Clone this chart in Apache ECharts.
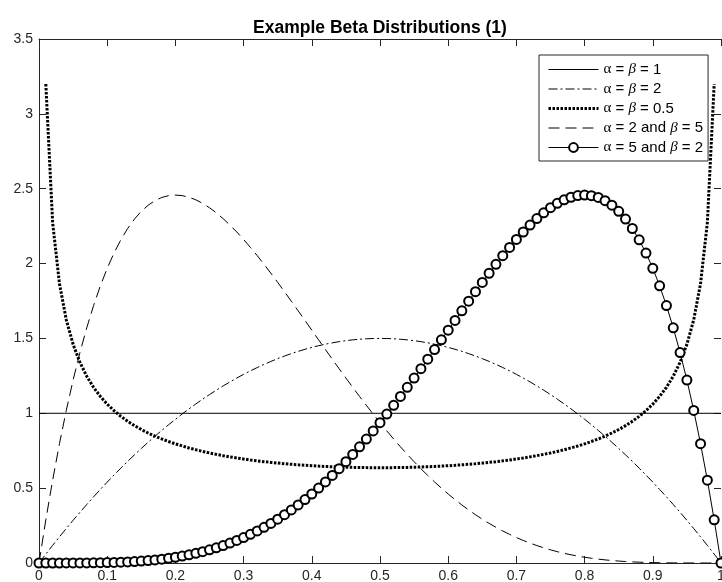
<!DOCTYPE html>
<html>
<head>
<meta charset="utf-8">
<script src="https://cdn.jsdelivr.net/npm/echarts@6/dist/echarts.min.js"></script>
<style>
  html, body { margin: 0; padding: 0; background: #fff; }
  #chart { width: 722px; height: 582px; }
</style>
</head>
<body>
<div id="chart"></div>
<script>
// x positions, 0 .. 1 in steps of 0.01
var xs = [
  0, 0.01, 0.02, 0.03, 0.04, 0.05, 0.06, 0.07, 0.08, 0.09,
  0.1, 0.11, 0.12, 0.13, 0.14, 0.15, 0.16, 0.17, 0.18, 0.19,
  0.2, 0.21, 0.22, 0.23, 0.24, 0.25, 0.26, 0.27, 0.28, 0.29,
  0.3, 0.31, 0.32, 0.33, 0.34, 0.35, 0.36, 0.37, 0.38, 0.39,
  0.4, 0.41, 0.42, 0.43, 0.44, 0.45, 0.46, 0.47, 0.48, 0.49,
  0.5, 0.51, 0.52, 0.53, 0.54, 0.55, 0.56, 0.57, 0.58, 0.59,
  0.6, 0.61, 0.62, 0.63, 0.64, 0.65, 0.66, 0.67, 0.68, 0.69,
  0.7, 0.71, 0.72, 0.73, 0.74, 0.75, 0.76, 0.77, 0.78, 0.79,
  0.8, 0.81, 0.82, 0.83, 0.84, 0.85, 0.86, 0.87, 0.88, 0.89,
  0.9, 0.91, 0.92, 0.93, 0.94, 0.95, 0.96, 0.97, 0.98, 0.99,
  1
];

// alpha = beta = 1 (flat line, two end points)
var xsFlat = [0, 1];
var yFlat = [1, 1];

// alpha = beta = 2
var yBeta22 = [
  0, 0.0594, 0.1176, 0.1746, 0.2304, 0.2850, 0.3384, 0.3906, 0.4416, 0.4914,
  0.5400, 0.5874, 0.6336, 0.6786, 0.7224, 0.7650, 0.8064, 0.8466, 0.8856, 0.9234,
  0.9600, 0.9954, 1.0296, 1.0626, 1.0944, 1.1250, 1.1544, 1.1826, 1.2096, 1.2354,
  1.2600, 1.2834, 1.3056, 1.3266, 1.3464, 1.3650, 1.3824, 1.3986, 1.4136, 1.4274,
  1.4400, 1.4514, 1.4616, 1.4706, 1.4784, 1.4850, 1.4904, 1.4946, 1.4976, 1.4994,
  1.5000, 1.4994, 1.4976, 1.4946, 1.4904, 1.4850, 1.4784, 1.4706, 1.4616, 1.4514,
  1.4400, 1.4274, 1.4136, 1.3986, 1.3824, 1.3650, 1.3464, 1.3266, 1.3056, 1.2834,
  1.2600, 1.2354, 1.2096, 1.1826, 1.1544, 1.1250, 1.0944, 1.0626, 1.0296, 0.9954,
  0.9600, 0.9234, 0.8856, 0.8466, 0.8064, 0.7650, 0.7224, 0.6786, 0.6336, 0.5874,
  0.5400, 0.4914, 0.4416, 0.3906, 0.3384, 0.2850, 0.2304, 0.1746, 0.1176, 0.0594,
  0
];

// alpha = beta = 0.5 (no value at the two ends)
var yBeta55 = [
  null, 3.1991, 2.2736, 1.8660, 1.6244, 1.4605, 1.3403, 1.2476, 1.1733, 1.1123,
  1.0610, 1.0173, 0.9795, 0.9465, 0.9174, 0.8914, 0.8683, 0.8474, 0.8285, 0.8114,
  0.7958, 0.7815, 0.7684, 0.7564, 0.7453, 0.7351, 0.7257, 0.7170, 0.7089, 0.7015,
  0.6946, 0.6882, 0.6824, 0.6769, 0.6720, 0.6674, 0.6631, 0.6593, 0.6558, 0.6526,
  0.6497, 0.6472, 0.6449, 0.6430, 0.6413, 0.6398, 0.6387, 0.6378, 0.6371, 0.6367,
  0.6366, 0.6367, 0.6371, 0.6378, 0.6387, 0.6398, 0.6413, 0.6430, 0.6449, 0.6472,
  0.6497, 0.6526, 0.6558, 0.6593, 0.6631, 0.6674, 0.6720, 0.6769, 0.6824, 0.6882,
  0.6946, 0.7015, 0.7089, 0.7170, 0.7257, 0.7351, 0.7453, 0.7564, 0.7684, 0.7815,
  0.7958, 0.8114, 0.8285, 0.8474, 0.8683, 0.8914, 0.9174, 0.9465, 0.9795, 1.0173,
  1.0610, 1.1123, 1.1733, 1.2476, 1.3403, 1.4605, 1.6244, 1.8660, 2.2736, 3.1991,
  null
];

// alpha = 2 and beta = 5
var yBeta25 = [
  0, 0.2882, 0.5534, 0.7968, 1.0192, 1.2218, 1.4054, 1.5709, 1.7193, 1.8515,
  1.9683, 2.0705, 2.1589, 2.2343, 2.2974, 2.3490, 2.3898, 2.4204, 2.4415, 2.4537,
  2.4576, 2.4539, 2.4430, 2.4256, 2.4021, 2.3730, 2.3390, 2.3003, 2.2574, 2.2108,
  2.1609, 2.1080, 2.0526, 1.9950, 1.9354, 1.8743, 1.8119, 1.7486, 1.6845, 1.6200,
  1.5552, 1.4904, 1.4259, 1.3617, 1.2981, 1.2353, 1.1734, 1.1126, 1.0529, 0.9945,
  0.9375, 0.8820, 0.8281, 0.7759, 0.7254, 0.6766, 0.6297, 0.5846, 0.5414, 0.5002,
  0.4608, 0.4234, 0.3878, 0.3542, 0.3225, 0.2926, 0.2646, 0.2384, 0.2139, 0.1912,
  0.1701, 0.1507, 0.1328, 0.1164, 0.1015, 0.0879, 0.0756, 0.0646, 0.0548, 0.0461,
  0.0384, 0.0317, 0.0258, 0.0208, 0.0165, 0.0129, 0.0099, 0.0075, 0.0055, 0.0039,
  0.0027, 0.0018, 0.0011, 0.0007, 0.0004, 0.0002, 0.0001, 0.0000, 0.0000, 0.0000,
  0
];

// alpha = 5 and beta = 2
var yBeta52 = [
  0, 0.0000, 0.0000, 0.0000, 0.0001, 0.0002, 0.0004, 0.0007, 0.0011, 0.0018,
  0.0027, 0.0039, 0.0055, 0.0075, 0.0099, 0.0129, 0.0165, 0.0208, 0.0258, 0.0317,
  0.0384, 0.0461, 0.0548, 0.0646, 0.0756, 0.0879, 0.1015, 0.1164, 0.1328, 0.1507,
  0.1701, 0.1912, 0.2139, 0.2384, 0.2646, 0.2926, 0.3225, 0.3542, 0.3878, 0.4234,
  0.4608, 0.5002, 0.5414, 0.5846, 0.6297, 0.6766, 0.7254, 0.7759, 0.8281, 0.8820,
  0.9375, 0.9945, 1.0529, 1.1126, 1.1734, 1.2353, 1.2981, 1.3617, 1.4259, 1.4904,
  1.5552, 1.6200, 1.6845, 1.7486, 1.8119, 1.8743, 1.9354, 1.9950, 2.0526, 2.1080,
  2.1609, 2.2108, 2.2574, 2.3003, 2.3390, 2.3730, 2.4021, 2.4256, 2.4430, 2.4539,
  2.4576, 2.4537, 2.4415, 2.4204, 2.3898, 2.3490, 2.2974, 2.2343, 2.1589, 2.0705,
  1.9683, 1.8515, 1.7193, 1.5709, 1.4054, 1.2218, 1.0192, 0.7968, 0.5534, 0.2882,
  0
];

var seriesNames = [
  'α = β = 1',
  'α = β = 2',
  'α = β = 0.5',
  'α = 2 and β = 5',
  'α = 5 and β = 2'
];

function pairs(x, y) {
  var out = [];
  for (var i = 0; i < x.length; i++) {
    if (y[i] != null) out.push([x[i], y[i]]);
  }
  return out;
}

var axisColor = '#262626';
var fontFam = '"Liberation Sans", Arial, sans-serif';
var noMarker = { color: 'rgba(0,0,0,0)', borderColor: 'rgba(0,0,0,0)', borderWidth: 0 };

var myChart = echarts.init(document.getElementById('chart'));

var option = {
  animation: false,
  backgroundColor: '#fff',
  title: {
    text: 'Example Beta Distributions (1)',
    left: 375,
    top: 14,
    textAlign: 'center',
    textStyle: { fontFamily: fontFam, fontSize: 17.5, fontWeight: 'bold', color: '#000' }
  },
  grid: { left: 39, right: 1, top: 39, bottom: 19, containLabel: false, outerBoundsMode: 'none' },
  legend: {
    orient: 'vertical',
    left: 539,
    top: 55,
    padding: [7, 5, 6, 8],
    itemGap: 4.5,
    itemWidth: 50,
    itemHeight: 11,
    backgroundColor: '#fff',
    borderColor: axisColor,
    borderWidth: 1,
    borderRadius: 0,
    data: [
      { name: seriesNames[0], itemStyle: noMarker },
      { name: seriesNames[1], itemStyle: noMarker },
      { name: seriesNames[2], itemStyle: noMarker },
      { name: seriesNames[3], itemStyle: noMarker },
      { name: seriesNames[4] }
    ],
    lineStyle: { width: 'inherit' },
    formatter: function (name) {
      return name.replace(/α/g, '{a|α}').replace(/β/g, '{b|β}');
    },
    textStyle: {
      fontFamily: fontFam,
      fontSize: 15,
      color: '#000',
      rich: {
        a: { fontFamily: '"Liberation Serif", serif', fontSize: 15, color: '#000' },
        b: { fontFamily: '"Liberation Serif", serif', fontStyle: 'italic', fontSize: 15, color: '#000' }
      }
    }
  },
  xAxis: [{
    type: 'value',
    min: 0, max: 1, interval: 0.1,
    position: 'bottom',
    axisLine: { show: true, onZero: false, lineStyle: { color: axisColor, width: 1 } },
    axisTick: { show: true, inside: true, length: 7, lineStyle: { color: axisColor } },
    axisLabel: { color: axisColor, fontFamily: fontFam, fontSize: 14, margin: 6 },
    splitLine: { show: false }
  }, {
    type: 'value',
    min: 0, max: 1, interval: 0.1,
    position: 'top',
    axisLine: { show: true, onZero: false, lineStyle: { color: axisColor, width: 1 } },
    axisTick: { show: true, inside: true, length: 7, lineStyle: { color: axisColor } },
    axisLabel: { show: false },
    splitLine: { show: false }
  }],
  yAxis: [{
    type: 'value',
    min: 0, max: 3.5, interval: 0.5,
    position: 'left',
    axisLine: { show: true, onZero: false, lineStyle: { color: axisColor, width: 1 } },
    axisTick: { show: true, inside: true, length: 7, lineStyle: { color: axisColor } },
    axisLabel: { color: axisColor, fontFamily: fontFam, fontSize: 14, margin: 6 },
    splitLine: { show: false }
  }, {
    type: 'value',
    min: 0, max: 3.5, interval: 0.5,
    position: 'right',
    axisLine: { show: false, onZero: false },
    axisTick: { show: true, inside: true, length: 7, lineStyle: { color: axisColor } },
    axisLabel: { show: false },
    splitLine: { show: false }
  }],
  series: [{
    name: seriesNames[0],
    type: 'line',
    symbol: 'none',
    data: pairs(xsFlat, yFlat),
    itemStyle: { color: '#000' },
    lineStyle: { color: '#000', width: 1, type: 'solid' }
  }, {
    name: seriesNames[1],
    type: 'line',
    symbol: 'none',
    data: pairs(xs, yBeta22),
    itemStyle: { color: '#000' },
    lineStyle: { color: '#000', width: 1, type: [9, 3, 2, 3] }
  }, {
    name: seriesNames[2],
    type: 'line',
    symbol: 'none',
    data: pairs(xs, yBeta55),
    itemStyle: { color: '#000' },
    lineStyle: { color: '#000', width: 3, type: [2.5, 1.5] }
  }, {
    name: seriesNames[3],
    type: 'line',
    symbol: 'none',
    data: pairs(xs, yBeta25),
    itemStyle: { color: '#000' },
    lineStyle: { color: '#000', width: 1, type: [11, 6] }
  }, {
    name: seriesNames[4],
    type: 'line',
    symbol: 'emptyCircle',
    symbolSize: 9,
    data: pairs(xs, yBeta52),
    lineStyle: { color: '#000', width: 1, type: 'solid' },
    itemStyle: { color: '#000', borderColor: '#000', borderWidth: 1.2 }
  }]
};

myChart.setOption(option);
</script>
</body>
</html>
